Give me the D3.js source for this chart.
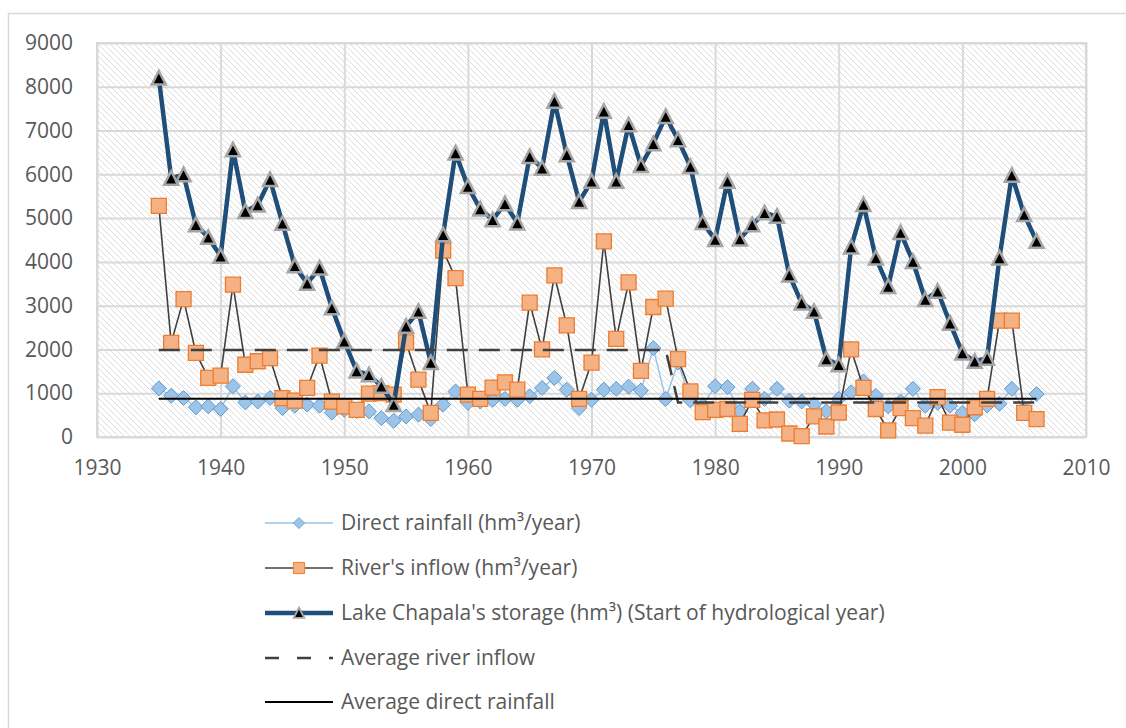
<!DOCTYPE html>
<html>
<head>
<meta charset="utf-8">
<script src="https://cdn.jsdelivr.net/npm/d3@7"></script>
<style>
  body { margin: 0; background: #fff; }
  svg text { font-family: "Open Sans", sans-serif; fill: #595959; }
</style>
</head>
<body>
<div id="chart"></div>
<script>
// Years of record (hydrological years)
const years = d3.range(1935, 2007);

// Direct rainfall over the lake (hm3/year)
const directRainfall = [
  1110, 940, 890, 680, 700, 640, 1160, 790, 810, 890,
  660, 715, 740, 715, 560, 620, 590, 585, 430, 370,
  470, 510, 410, 740, 1040, 780, 810, 850, 870, 850,
  930, 1120, 1350, 1080, 660, 850, 1080, 1100, 1150, 1060,
  2030, 870, 1700, 840, 720, 1160, 1140, 585, 1100, 870,
  1100, 830, 810, 750, 585, 870, 1020, 1270, 940, 700,
  810, 1100, 715, 780, 715, 550, 520, 720, 760, 1100,
  620, 980
];

// River's inflow (hm3/year)
const riverInflow = [
  5280, 2150, 3150, 1920, 1350, 1400, 3480, 1650, 1730, 1800,
  890, 830, 1120, 1860, 810, 700, 620, 990, 1000, 970,
  2160, 1310, 550, 4260, 3630, 970, 870, 1130, 1250, 1080,
  3070, 2000, 3690, 2550, 870, 1700, 4470, 2240, 3530, 1510,
  2970, 3160, 1780, 1040, 570, 620, 640, 300, 850, 380,
  400, 80, 20, 470, 240, 560, 2000, 1120, 640, 150,
  660, 430, 260, 910, 330, 280, 680, 870, 2660, 2660,
  550, 410
];

// Lake Chapala's storage at start of hydrological year (hm3)
const lakeStorage = [
  8200, 5910, 5990, 4850, 4560, 4130, 6560, 5150, 5300, 5880,
  4880, 3910, 3510, 3860, 2950, 2190, 1510, 1420, 1160, 740,
  2530, 2870, 1700, 4620, 6490, 5720, 5210, 4960, 5330, 4890,
  6410, 6140, 7670, 6450, 5380, 5840, 7440, 5840, 7130, 6200,
  6700, 7320, 6790, 6180, 4900, 4510, 5840, 4520, 4850, 5120,
  5040, 3700, 3060, 2870, 1780, 1650, 4340, 5310, 4090, 3440,
  4670, 4010, 3140, 3330, 2600, 1920, 1730, 1800, 4090, 5980,
  5080, 4470
];

// Averages (step series)
const avgRiverYears = [1935, 1976, 1977, 2006];
const avgRiverValues = [1990, 1990, 790, 790];
const avgRainYears = [1935, 2006];
const avgRainValues = [875, 875];

// Axis ticks
const xTicks = [1930, 1940, 1950, 1960, 1970, 1980, 1990, 2000, 2010];
const yTicks = [0, 1000, 2000, 3000, 4000, 5000, 6000, 7000, 8000, 9000];

const legendLabels = [
  "Direct rainfall (hm\u00b3/year)",
  "River's inflow (hm\u00b3/year)",
  "Lake Chapala's storage (hm\u00b3) (Start of hydrological year)",
  "Average river inflow",
  "Average direct rainfall"
];

const width = 1126, height = 728;
const plot = { left: 97, right: 1086, top: 43, bottom: 437 };

const svg = d3.select("#chart").append("svg")
  .attr("width", width)
  .attr("height", height);

// Hatched plot background
const defs = svg.append("defs");
defs.append("pattern")
  .attr("id", "hatch")
  .attr("patternUnits", "userSpaceOnUse")
  .attr("width", 6).attr("height", 6)
  .append("path")
  .attr("d", "M0,0 L6,6 M-1,5 L1,7 M5,-1 L7,1")
  .attr("stroke", "#dedede")
  .attr("stroke-width", 1);

// Outer chart border
svg.append("rect")
  .attr("x", 8.5).attr("y", 13.5)
  .attr("width", 1130).attr("height", 730)
  .attr("fill", "none")
  .attr("stroke", "#d9d9d9")
  .attr("stroke-width", 1.5);

const x = d3.scaleLinear().domain([1930, 2010]).range([plot.left, plot.right]);
const y = d3.scaleLinear().domain([0, 9000]).range([plot.bottom, plot.top]);

svg.append("rect")
  .attr("x", plot.left).attr("y", plot.top)
  .attr("width", plot.right - plot.left)
  .attr("height", plot.bottom - plot.top)
  .attr("fill", "url(#hatch)");

// Gridlines
const gridY = svg.append("g")
  .attr("transform", `translate(${plot.left},0)`)
  .call(d3.axisLeft(y).tickValues(yTicks).tickSize(-(plot.right - plot.left)).tickFormat(""));
const gridX = svg.append("g")
  .attr("transform", `translate(0,${plot.bottom})`)
  .call(d3.axisBottom(x).tickValues(xTicks).tickSize(-(plot.bottom - plot.top)).tickFormat(""));
[gridY, gridX].forEach(g => {
  g.select(".domain").remove();
  g.selectAll("line").attr("stroke", "#d9d9d9").attr("stroke-width", 2);
});

svg.append("rect")
  .attr("x", plot.left).attr("y", plot.top)
  .attr("width", plot.right - plot.left)
  .attr("height", plot.bottom - plot.top)
  .attr("fill", "none")
  .attr("stroke", "#d9d9d9")
  .attr("stroke-width", 2);

// Tick labels
const yAxis = svg.append("g")
  .attr("transform", `translate(73,0)`)
  .call(d3.axisLeft(y).tickValues(yTicks).tickSize(0).tickPadding(0).tickFormat(d3.format("d")));
const xAxis = svg.append("g")
  .attr("transform", `translate(0,460)`)
  .call(d3.axisBottom(x).tickValues(xTicks).tickSize(0).tickPadding(0).tickFormat(d3.format("d")));
[yAxis, xAxis].forEach(g => {
  g.select(".domain").remove();
  g.selectAll("text")
    .style("font-family", "'Open Sans', sans-serif")
    .style("font-size", "21px")
    .attr("fill", "#595959");
});

// Marker shapes
const diamondPath = "M0,-7.5 L7.5,0 L0,7.5 L-7.5,0Z";
const squarePath = "M-7.5,-7.5 H7.5 V7.5 H-7.5Z";
const trianglePath = "M0,-7 L7,6.5 L-7,6.5Z";

const series = [
  {
    name: "rain", values: directRainfall,
    line: { stroke: "#9dc3e6", width: 1.5 },
    marker: { d: diamondPath, fill: "#9dc3e6", stroke: "#5b9bd5", width: 1 }
  },
  {
    name: "river", values: riverInflow,
    line: { stroke: "#404040", width: 1.6 },
    marker: { d: squarePath, fill: "#f4b183", stroke: "#ed7d31", width: 1.3 }
  },
  {
    name: "storage", values: lakeStorage,
    line: { stroke: "#1f4e79", width: 4.5 },
    marker: { d: trianglePath, fill: "#000000", stroke: "#a5a5a5", width: 2.5 }
  }
];

const line = d3.line().x(d => x(d[0])).y(d => y(d[1]));

series.forEach(s => {
  const pts = years.map((yr, i) => [yr, s.values[i]]);
  const g = svg.append("g").attr("class", s.name);
  g.append("path")
    .attr("d", line(pts))
    .attr("fill", "none")
    .attr("stroke", s.line.stroke)
    .attr("stroke-width", s.line.width)
    .attr("stroke-linejoin", "round");
  g.selectAll("path.marker")
    .data(pts)
    .enter().append("path")
    .attr("class", "marker")
    .attr("d", s.marker.d)
    .attr("transform", d => `translate(${x(d[0])},${y(d[1])})`)
    .attr("fill", s.marker.fill)
    .attr("stroke", s.marker.stroke)
    .attr("stroke-width", s.marker.width)
    .attr("stroke-linejoin", "miter");
});

// Average lines
svg.append("path")
  .attr("d", line(avgRiverYears.map((yr, i) => [yr, avgRiverValues[i]])))
  .attr("fill", "none")
  .attr("stroke", "#404040")
  .attr("stroke-width", 2.5)
  .attr("stroke-dasharray", "21,11");

svg.append("path")
  .attr("d", line(avgRainYears.map((yr, i) => [yr, avgRainValues[i]])))
  .attr("fill", "none")
  .attr("stroke", "#000000")
  .attr("stroke-width", 2);

// Legend
const legendY = [523, 568, 613, 658, 702];
const legend = svg.append("g");
const sample = { x1: 265, x2: 333, mid: 299 };

legendLabels.forEach((label, i) => {
  const gy = legendY[i];
  const row = legend.append("g").attr("transform", `translate(0,${gy})`);
  if (i < 3) {
    const s = series[i];
    row.append("line")
      .attr("x1", sample.x1).attr("x2", sample.x2)
      .attr("stroke", s.line.stroke)
      .attr("stroke-width", s.line.width);
    row.append("path")
      .attr("d", s.marker.d)
      .attr("transform", `translate(${sample.mid},0) scale(0.75)`)
      .attr("fill", s.marker.fill)
      .attr("stroke", s.marker.stroke)
      .attr("stroke-width", s.marker.width);
  } else if (i === 3) {
    row.append("line")
      .attr("x1", sample.x1).attr("x2", sample.x2)
      .attr("stroke", "#404040")
      .attr("stroke-width", 2.5)
      .attr("stroke-dasharray", "14,18");
  } else {
    row.append("line")
      .attr("x1", sample.x1).attr("x2", sample.x2)
      .attr("stroke", "#000000")
      .attr("stroke-width", 2);
  }
  row.append("text")
    .attr("x", 341)
    .attr("dy", "0.35em")
    .style("font-size", "21px")
    .text(label);
});
</script>
</body>
</html>
